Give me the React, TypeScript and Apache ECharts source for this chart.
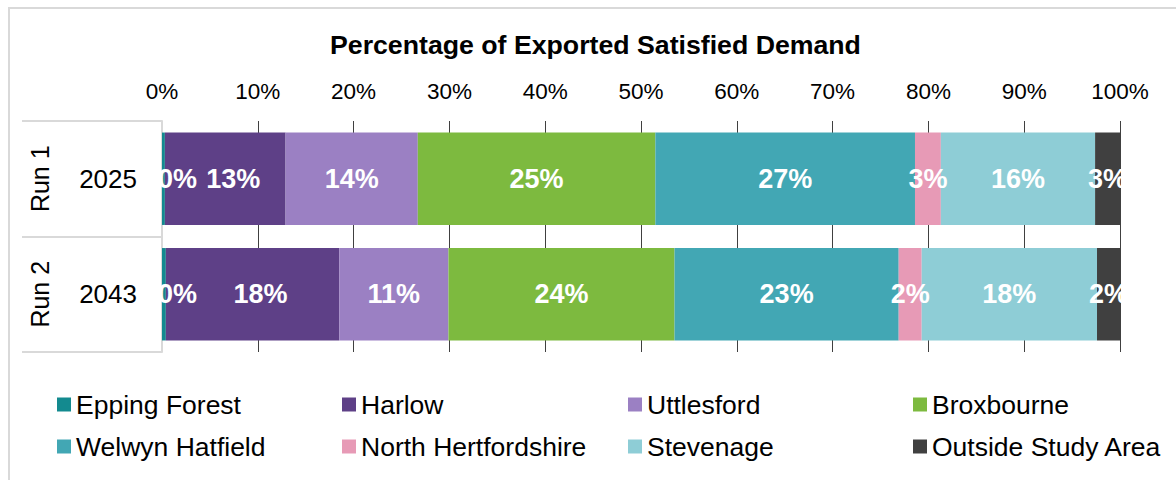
import React, { useEffect, useRef } from "react";
import * as echarts from "echarts";

const years = ["2025", "2043"];
const runs = ["Run 1", "Run 2"];
const seriesNames = [
  "Epping Forest",
  "Harlow",
  "Uttlesford",
  "Broxbourne",
  "Welwyn Hatfield",
  "North Hertfordshire",
  "Stevenage",
  "Outside Study Area",
];
const eppingForest = [0.3, 0.4];
const harlow = [12.6, 18.1];
const uttlesford = [13.8, 11.4];
const broxbourne = [24.8, 23.6];
const welwynHatfield = [27.1, 23.4];
const northHertfordshire = [2.7, 2.4];
const stevenage = [16.1, 18.3];
const outsideStudyArea = [2.6, 2.4];
const tickValues = [0, 10, 20, 30, 40, 50, 60, 70, 80, 90, 100];

const seriesData = [
  eppingForest,
  harlow,
  uttlesford,
  broxbourne,
  welwynHatfield,
  northHertfordshire,
  stevenage,
  outsideStudyArea,
];
const colors = [
  "#138a8f",
  "#5e4087",
  "#9b80c3",
  "#7dba3f",
  "#42a7b4",
  "#e79ab6",
  "#8ecdd6",
  "#404040",
];

const FONT = "'Liberation Sans', Arial, sans-serif";
const legendCols = [57, 342, 628, 913];
const legendRows = [391, 433];

export default function App() {
  const ref = useRef<HTMLDivElement>(null);
  useEffect(() => {
    if (!ref.current) return;
    const chart = echarts.init(ref.current, undefined, { renderer: "svg" });
    const option: any = {
      animation: false,
      backgroundColor: "#ffffff",
      title: {
        text: "Percentage of Exported Satisfied Demand",
        left: 330,
        top: 31,
        padding: 0,
        textStyle: { fontFamily: FONT, fontSize: 26.7, fontWeight: "bold", color: "#000" },
      },
      graphic: [
        {
          type: "rect",
          shape: { x: 9, y: 8, width: 1300, height: 600 },
          style: { fill: "none", stroke: "#d9d9d9", lineWidth: 2 },
          silent: true,
          z: -1,
        },
      ],
      legend: seriesNames.map((n, i) => ({
        data: [n],
        left: legendCols[i % 4],
        top: legendRows[Math.floor(i / 4)],
        padding: 0,
        itemWidth: 14,
        itemHeight: 14,
        icon: "rect",
        selectedMode: false,
        textStyle: { fontFamily: FONT, fontSize: 26.5, color: "#000" },
      })),
      grid: { left: 162, right: 56, top: 121, bottom: 128, containLabel: false },
      xAxis: {
        type: "value",
        position: "top",
        min: tickValues[0],
        max: tickValues[tickValues.length - 1],
        interval: 10,
        axisLine: { show: false },
        axisTick: { show: false },
        axisLabel: {
          formatter: "{value}%",
          fontFamily: FONT,
          fontSize: 22.5,
          color: "#000",
          margin: 18,
        },
        splitLine: {
          show: true,
          showMinLine: false,
          lineStyle: { color: "#404040", width: 1 },
        },
      },
      yAxis: [
        {
          type: "category",
          data: years,
          inverse: true,
          position: "left",
          axisLine: { show: true, lineStyle: { color: "#d9d9d9", width: 2 } },
          axisTick: { show: true, length: 140, lineStyle: { color: "#d9d9d9", width: 2 } },
          axisLabel: { fontFamily: FONT, fontSize: 26, color: "#000", margin: 25 },
        },
        {
          type: "category",
          data: runs,
          inverse: true,
          position: "left",
          axisLine: { show: false },
          axisTick: { show: false },
          axisLabel: { fontFamily: FONT, fontSize: 25, color: "#000", rotate: 90, margin: 110 },
        },
      ],
      series: seriesNames.map((n, i) => ({
        name: n,
        type: "bar",
        stack: "total",
        yAxisIndex: 0,
        barCategoryGap: "20%",
        data: seriesData[i],
        itemStyle: { color: colors[i] },
        label: {
          show: true,
          position: i === 0 ? "insideLeft" : "inside",
          distance: i === 0 ? 0 : 5,
          offset: i === 0 ? [-4, 0] : i === 1 ? [8, 0] : [0, 0],
          formatter: (p: any) => Math.round(p.value) + "%",
          fontFamily: FONT,
          fontSize: 27,
          fontWeight: "bold",
          color: "#ffffff",
        },
      })),
    };
    chart.setOption(option);
    return () => chart.dispose();
  }, []);
  return (
    <div
      ref={ref}
      style={{ position: "fixed", left: 0, top: 0, width: 1176, height: 480 }}
    />
  );
}
